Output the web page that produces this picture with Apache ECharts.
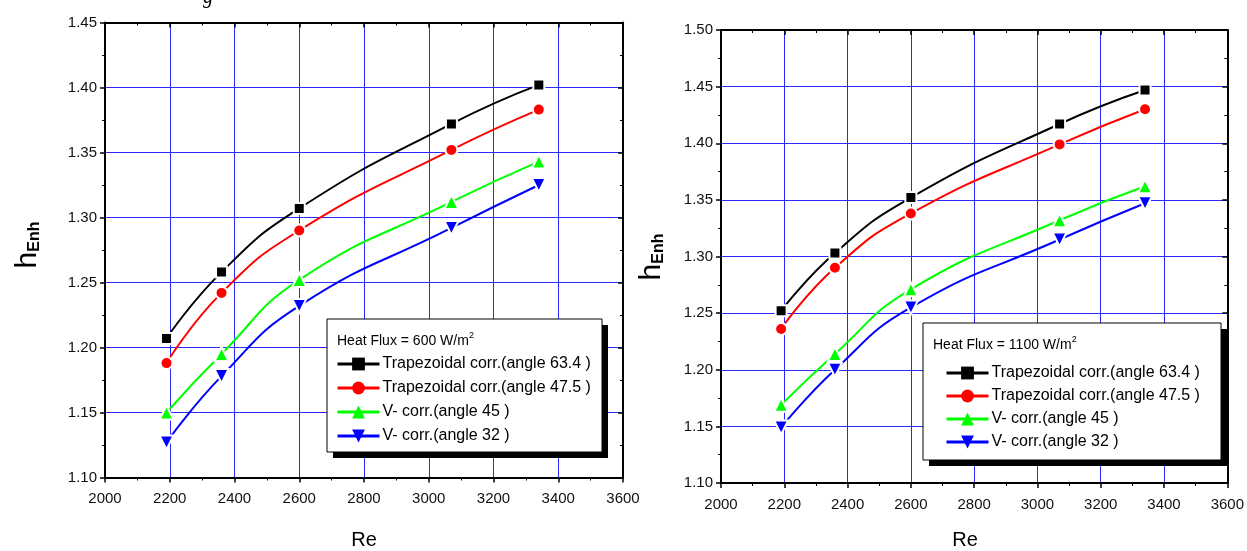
<!DOCTYPE html>
<html>
<head>
<meta charset="UTF-8">
<title>h_Enh vs Re</title>
<script src="https://cdn.jsdelivr.net/npm/echarts@6/dist/echarts.min.js"></script>
<style>
  html, body { margin: 0; padding: 0; background: #fff; }
  #main { width: 1247px; height: 551px; }
</style>
</head>
<body>
<div id="main"></div>
<script>
// Reynolds numbers (x)
var reValues = [2190, 2360, 2600, 3070, 3340];

// heat flux 600 W/m2 (left panel)
var flux600Trap634 = [1.207, 1.258, 1.307, 1.372, 1.402];
var flux600Trap475 = [1.188, 1.242, 1.290, 1.352, 1.383];
var flux600V45 = [1.150, 1.195, 1.252, 1.312, 1.343];
var flux600V32 = [1.127, 1.178, 1.232, 1.292, 1.325];

// heat flux 1100 W/m2 (right panel)
var flux1100Trap634 = [1.252, 1.303, 1.352, 1.417, 1.447];
var flux1100Trap475 = [1.236, 1.290, 1.338, 1.399, 1.430];
var flux1100V45 = [1.169, 1.214, 1.271, 1.332, 1.362];
var flux1100V32 = [1.149, 1.200, 1.255, 1.315, 1.347];

var seriesNames = [
  'Trapezoidal corr.(angle 63.4 )',
  'Trapezoidal corr.(angle 47.5 )',
  'V- corr.(angle 45 )',
  'V- corr.(angle 32 )'
];
var seriesColors = ['#000000', '#ff0000', '#00ff00', '#0000ff'];
var seriesSymbols = ['rect', 'circle', 'triangle', 'triangle'];
var seriesRotate = [0, 0, 0, 180];
var seriesSizes = [11, 12, 14, 14];

var reMin = 2000, reMax = 3600, reStep = 200;
var leftMin = 1.10, leftMax = 1.45;
var rightMin = 1.10, rightMax = 1.50;
var hStep = 0.05;

var myChart = echarts.init(document.getElementById('main'));
var font = 'Liberation Sans, Arial, sans-serif';

function toXY(vals) {
  return vals.map(function (v, i) { return [reValues[i], v]; });
}

function xAx(grid, top) {
  return {
    type: 'value', gridIndex: grid, position: top ? 'top' : 'bottom',
    min: reMin, max: reMax, interval: reStep,
    axisLine: { show: true, onZero: false, lineStyle: { color: '#000', width: 2 } },
    axisTick: { show: true, inside: top, length: 5, lineStyle: { color: '#000', width: 1.5 } },
    minorTick: { show: true, splitNumber: 2, length: 3, lineStyle: { color: '#000' } },
    axisLabel: {
      show: !top, color: '#111', fontSize: 15, fontFamily: font, margin: 14,
      formatter: function (v) { return String(v); }
    },
    splitLine: { show: !top, lineStyle: { color: '#2a2aff', width: 1 } }
  };
}

function yAx(grid, right, min, max) {
  return {
    type: 'value', gridIndex: grid, position: right ? 'right' : 'left',
    min: min, max: max, interval: hStep,
    axisLine: { show: true, onZero: false, lineStyle: { color: '#000', width: 2 } },
    axisTick: { show: true, inside: right, length: 5, lineStyle: { color: '#000', width: 1.5 } },
    minorTick: { show: true, splitNumber: 2, length: 3, lineStyle: { color: '#000' } },
    axisLabel: {
      show: !right, color: '#111', fontSize: 15, fontFamily: font, margin: 8,
      formatter: function (v) { return v.toFixed(2); }
    },
    splitLine: { show: !right, lineStyle: { color: '#2a2aff', width: 1 } }
  };
}

function makeSeries(grid, sets) {
  return sets.map(function (vals, k) {
    return {
      name: seriesNames[k], type: 'line', xAxisIndex: grid * 2, yAxisIndex: grid * 2,
      data: toXY(vals), smooth: true,
      symbol: seriesSymbols[k], symbolRotate: seriesRotate[k],
      symbolSize: seriesSizes[k],
      lineStyle: { color: seriesColors[k], width: 2 },
      itemStyle: { color: seriesColors[k], borderColor: '#fff', borderWidth: 2 },
      z: 5 + k
    };
  });
}

function legendBox(x, y, w, h, title) {
  return [
    { type: 'rect', shape: { x: x + 6, y: y + 6, width: w, height: h }, style: { fill: '#000' }, z: 50 },
    { type: 'rect', shape: { x: x, y: y, width: w, height: h }, style: { fill: '#fff', stroke: '#000', lineWidth: 1 }, z: 51 },
    {
      type: 'text', x: x + 10, y: y + 22, z: 52,
      style: {
        text: title + '{sup|2}', fill: '#000', font: '14px ' + font, textVerticalAlign: 'middle',
        rich: { sup: { fontSize: 9, fontFamily: font, verticalAlign: 'top', padding: [0, 0, 10, 0] } }
      }
    }
  ];
}

function legendEntries(left, top, gap) {
  return {
    data: seriesNames, left: left, top: top, orient: 'vertical', padding: 0,
    itemWidth: 42, itemHeight: 16, itemGap: gap, zlevel: 1,
    itemStyle: { borderWidth: 0 },
    lineStyle: { width: 3 },
    textStyle: { color: '#000', fontSize: 16, fontFamily: font, padding: [0, 0, 0, -2] },
    selectedMode: false
  };
}

function yName(cx, cy) {
  return {
    type: 'text', x: cx, y: cy, rotation: Math.PI / 2, z: 10,
    style: {
      text: 'h{s|Enh}', fill: '#000', font: '30px ' + font,
      textAlign: 'center', textVerticalAlign: 'middle',
      rich: { s: { fontSize: 16, fontFamily: font, fontWeight: 'bold', verticalAlign: 'bottom', padding: [14, 0, 0, 0] } }
    }
  };
}

option = {
  backgroundColor: '#fff',
  animation: false,
  grid: [
    { left: 105, top: 22.5, width: 518, height: 455 },
    { left: 721, top: 30, width: 511, height: 453 }
  ],
  xAxis: [xAx(0, false), xAx(0, true), xAx(1, false), xAx(1, true)],
  yAxis: [
    yAx(0, false, leftMin, leftMax), yAx(0, true, leftMin, leftMax),
    yAx(1, false, rightMin, rightMax), yAx(1, true, rightMin, rightMax)
  ],
  legend: [legendEntries(336, 356, 8), legendEntries(945, 365, 7)],
  series: makeSeries(0, [flux600Trap634, flux600Trap475, flux600V45, flux600V32])
    .concat(makeSeries(1, [flux1100Trap634, flux1100Trap475, flux1100V45, flux1100V32])),
  graphic: [].concat(
    legendBox(327, 319, 275, 133, 'Heat Flux = 600 W/m'),
    legendBox(923, 323, 298, 137, 'Heat Flux = 1100 W/m'),
    [
      yName(28, 245),
      yName(652, 257),
      { type: 'text', x: 364, y: 540, style: { text: 'Re', fill: '#000', font: '20px ' + font, textAlign: 'center', textVerticalAlign: 'middle' } },
      { type: 'text', x: 965, y: 540, style: { text: 'Re', fill: '#000', font: '20px ' + font, textAlign: 'center', textVerticalAlign: 'middle' } },
      { type: 'text', x: 208, y: -2, style: { text: 'g', fill: '#000', font: 'italic 20px Liberation Serif, serif', textAlign: 'center', textVerticalAlign: 'middle' } }
    ]
  )
};

myChart.setOption(option);
</script>
</body>
</html>
